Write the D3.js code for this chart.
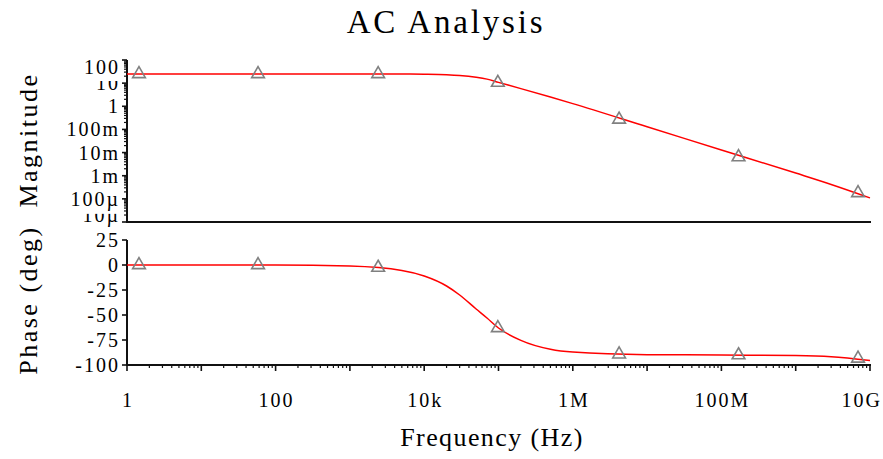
<!DOCTYPE html>
<html>
<head>
<meta charset="utf-8">
<script src="https://cdn.jsdelivr.net/npm/d3@7"></script>
<style>
  body { margin: 0; background: #fff; }
  svg { display: block; }
  text { font-family: "Liberation Serif", "Times New Roman", serif; fill: #000; }
</style>
</head>
<body>
<svg id="chart" width="883" height="459"></svg>
<script>
// frequency points of the traces (Hz) and values
var freqs = [1, 10, 100, 1e3, 5e3, 1e4, 2e4, 3e4, 5e4, 7e4, 1e5, 2e5, 5e5, 1e6, 1e7, 1e8, 1e9, 3e9, 1e10];
var magnitude = [25, 25, 25, 25, 24.9, 24.5, 23.3, 21.6, 18, 14.9, 10.8, 5.8, 2.5, 1.3, 0.13, 0.013, 1.3e-3, 4.2e-4, 1.1e-4];
var phase = [0, 0, 0, -1.1, -5.5, -11, -21, -30, -44, -53, -63, -75.4, -84.3, -87.1, -89.7, -90, -90.6, -91.8, -95.5];

// triangle markers along the traces
var markerFreqs = [1.45, 58, 2.4e3, 9.8e4, 4.2e6, 1.7e8, 6.9e9];
var markerMag = [25, 25, 25, 10.5, 0.27, 6.4e-3, 1.8e-4];
var markerPhase = [0, 0, -2.6, -63, -89.3, -90.1, -93.5];

// tick labels
var xTicks = [1, 100, 1e4, 1e6, 1e8, 1e10];
var xTickLabels = ["1", "100", "10k", "1M", "100M", "10G"];
var magTicks = [100, 10, 1, 0.1, 0.01, 1e-3, 1e-4, 1e-5];
var magTickLabels = ["100", "10", "1", "100m", "10m", "1m", "100\u00b5", "10\u00b5"];
var phaseTicks = [25, 0, -25, -50, -75, -100];

var svg = d3.select("#chart");

var x = d3.scaleLog().domain([1, 1e10]).range([127, 870]);
var yMag = d3.scaleLog().domain([1e-5, 100]).range([222, 60]);
var yPh = d3.scaleLinear().domain([-100, 25]).range([365, 240]);

// title
svg.append("text").attr("x", 446).attr("y", 33)
  .attr("text-anchor", "middle").style("font-size", "33px").style("letter-spacing", "2.8px")
  .text("AC Analysis");

// axis titles
svg.append("text").attr("transform", "translate(37,140) rotate(-90)")
  .attr("text-anchor", "middle").style("font-size", "26px").style("letter-spacing", "2.5px")
  .text("Magnitude");
svg.append("text").attr("transform", "translate(37,300) rotate(-90)")
  .attr("text-anchor", "middle").style("font-size", "26px").style("letter-spacing", "2.5px")
  .text("Phase (deg)");
svg.append("text").attr("x", 492).attr("y", 446)
  .attr("text-anchor", "middle").style("font-size", "26px").style("letter-spacing", "1.4px")
  .text("Frequency (Hz)");

// minor log ticks
function logMinor(lo, hi) {
  var out = [];
  for (var d = lo; d < hi; d *= 10)
    for (var k = 1; k < 10; k++) out.push(d * k);
  out.push(hi);
  return out;
}

var axes = svg.append("g").attr("stroke", "#111");

// magnitude panel frame
axes.append("line").attr("x1", 127).attr("x2", 127).attr("y1", yMag(100)).attr("y2", yMag(1e-5)).attr("stroke-width", 2);
axes.append("line").attr("x1", 126).attr("x2", 871).attr("y1", yMag(1e-5)).attr("y2", yMag(1e-5)).attr("stroke-width", 2);
logMinor(1e-5, 100).forEach(function(v) {
  var major = Math.abs(Math.log10(v) - Math.round(Math.log10(v))) < 1e-9;
  axes.append("line").attr("x1", major ? 121 : 124).attr("x2", 127)
    .attr("y1", yMag(v)).attr("y2", yMag(v)).attr("stroke-width", major ? 1.6 : 1.2);
});

// phase panel frame
axes.append("line").attr("x1", 127).attr("x2", 127).attr("y1", yPh(25)).attr("y2", yPh(-100)).attr("stroke-width", 2);
axes.append("line").attr("x1", 126).attr("x2", 871).attr("y1", yPh(-100)).attr("y2", yPh(-100)).attr("stroke-width", 2);
phaseTicks.forEach(function(v) {
  axes.append("line").attr("x1", 121).attr("x2", 127).attr("y1", yPh(v)).attr("y2", yPh(v)).attr("stroke-width", 1.6);
});
logMinor(1, 1e10).forEach(function(v) {
  var major = Math.abs(Math.log10(v) - Math.round(Math.log10(v))) < 1e-9;
  axes.append("line").attr("x1", x(v)).attr("x2", x(v))
    .attr("y1", 365).attr("y2", major ? 371 : 368).attr("stroke-width", major ? 1.6 : 1.2);
});

// y tick labels with white backing, drawn bottom to top
function yLabel(txt, yy, mode) {
  var g = svg.append("g");
  var t = g.append("text").attr("x", 120).attr("text-anchor", "end")
    .style("font-size", "20px").style("letter-spacing", "2px").text(txt);
  if (mode === "top") t.attr("y", yy + 14);
  else if (mode === "bottom") t.attr("y", yy);
  else t.attr("y", yy + 7);
  var b = t.node().getBBox();
  g.insert("rect", "text").attr("x", b.x - 2).attr("y", b.y).attr("width", b.width + 4)
    .attr("height", b.height + 3).attr("fill", "#fff");
}
for (var i = magTicks.length - 1; i >= 0; i--) {
  yLabel(magTickLabels[i], yMag(magTicks[i]), i === 0 ? "top" : (i === magTicks.length - 1 ? "bottom" : "mid"));
}
for (var j = phaseTicks.length - 1; j >= 0; j--) {
  yLabel(String(phaseTicks[j]), yPh(phaseTicks[j]), j === 0 ? "top2" : "mid");
}

// x tick labels (last one kept inside the right edge)
svg.append("g").selectAll("text").data(xTicks).join("text")
  .attr("x", function(d, i) { return i === xTicks.length - 1 ? 882 : x(d) + 1; }).attr("y", 407)
  .attr("text-anchor", function(d, i) { return i === xTicks.length - 1 ? "end" : "middle"; })
  .style("font-size", "20px").style("letter-spacing", "2px")
  .text(function(d, i) { return xTickLabels[i]; });

// traces
var magLine = d3.line().x(function(d, i) { return x(freqs[i]); })
  .y(function(d) { return yMag(d); }).curve(d3.curveMonotoneX);
var phLine = d3.line().x(function(d, i) { return x(freqs[i]); })
  .y(function(d) { return yPh(d); }).curve(d3.curveMonotoneX);

svg.append("path").datum(magnitude).attr("d", magLine)
  .attr("fill", "none").attr("stroke", "#ff0000").attr("stroke-width", 1.5);
svg.append("path").datum(phase).attr("d", phLine)
  .attr("fill", "none").attr("stroke", "#ff0000").attr("stroke-width", 1.5);

// markers
var tri = d3.symbol().type(d3.symbolTriangle).size(70);
svg.append("g").selectAll("path").data(markerFreqs).join("path")
  .attr("d", tri)
  .attr("transform", function(d, i) { return "translate(" + x(d) + "," + yMag(markerMag[i]) + ")"; })
  .attr("fill", "none").attr("stroke", "#808080").attr("stroke-width", 1.6);
svg.append("g").selectAll("path").data(markerFreqs).join("path")
  .attr("d", tri)
  .attr("transform", function(d, i) { return "translate(" + x(d) + "," + yPh(markerPhase[i]) + ")"; })
  .attr("fill", "none").attr("stroke", "#808080").attr("stroke-width", 1.6);
</script>
</body>
</html>
